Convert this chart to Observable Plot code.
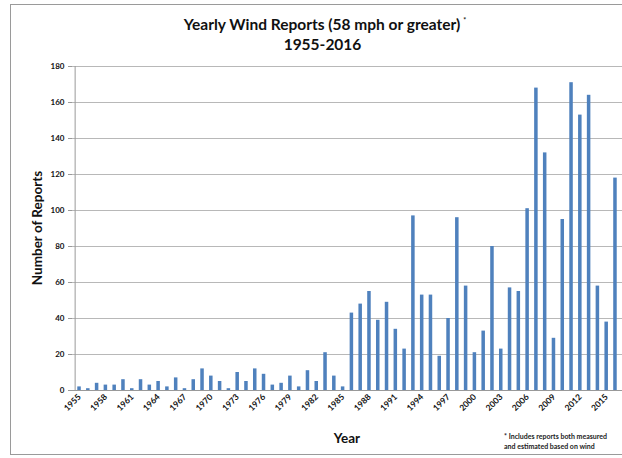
<!DOCTYPE html>
<html>
<head>
<meta charset="utf-8">
<script src="https://cdn.jsdelivr.net/npm/d3@7"></script>
<script src="https://cdn.jsdelivr.net/npm/@observablehq/plot@0.6"></script>
<style>
  html, body { margin: 0; padding: 0; background: #fff; }
  #wrap { position: relative; width: 622px; height: 458px; overflow: hidden; font-family: Lato, "Open Sans", sans-serif; color: #111; }
  #frame { position: absolute; left: 10px; top: 4px; width: 640px; height: 451px; border: 1px solid #9a9a9a; box-sizing: border-box; }
  .t { position: absolute; font-weight: bold; white-space: nowrap; }
  #chart { position: absolute; left: 0; top: 0; }
</style>
</head>
<body>
<div id="wrap">
  <div id="frame"></div>
  <div id="chart"></div>
  <div class="t" style="left:0;width:650px;top:15px;text-align:center;font-size:15.5px;">Yearly Wind Reports (58 mph or greater)<sup style="font-size:7px;vertical-align:7px;margin-left:3px;">*</sup></div>
  <div class="t" style="left:0;width:645px;top:35px;text-align:center;font-size:15.5px;">1955-2016</div>
  <div class="t" style="left:37px;top:228px;font-size:13.5px;transform:translate(-50%,-50%) rotate(-90deg);">Number of Reports</div>
  <div class="t" style="left:347px;top:438px;font-size:13.5px;transform:translate(-50%,-50%);">Year</div>
  <div class="t" style="left:504px;top:432px;font-size:7px;line-height:9.5px;color:#222;">* Includes reports both measured<br>and estimated based on wind</div>
</div>
<script>
const years = d3.range(1955, 2017);
const reports = [
  2, 1, 4, 3, 3, 6, 1, 6, 3, 5,
  2, 7, 1, 6, 12, 8, 5, 1, 10, 5,
  12, 9, 3, 4, 8, 2, 11, 5, 21, 8,
  2, 43, 48, 55, 39, 49, 34, 23, 97, 53,
  53, 19, 40, 96, 58, 21, 33, 80, 23, 57,
  55, 101, 168, 132, 29, 95, 171, 153, 164, 58,
  38, 118
];
const yTicks = d3.range(0, 181, 20);
const xTickYears = years.filter((d, i) => i % 3 === 0);

const data = years.map((y, i) => ({year: y, value: reports[i]}));

const chart = Plot.plot({
  width: 622,
  height: 458,
  marginLeft: 72,
  marginRight: 0,
  marginTop: 66,
  marginBottom: 68,
  style: {fontFamily: "Lato, 'Open Sans', sans-serif", background: "transparent"},
  x: {type: "band", domain: years, padding: 0.6, label: null},
  y: {domain: [0, 180], label: null},
  marks: [
    Plot.gridY(yTicks, {stroke: "#b8b8b8", strokeOpacity: 1, strokeWidth: 1}),
    Plot.ruleX([0], {x: () => years[0], dx: -4.4, y1: 0, y2: 180, stroke: "#999"}),
    Plot.axisY(yTicks, {anchor: "left", tickSize: 4, tickPadding: 4, fontSize: 8, fontWeight: "bold", stroke: "#999", label: null, tickFormat: d => d}),
    Plot.barY(data, {x: "year", y: "value", fill: "#4f81bd"}),
    Plot.ruleY([0], {stroke: "#999"}),
    Plot.axisX(xTickYears, {anchor: "bottom", tickRotate: -45, tickSize: 0, tickPadding: 5, fontSize: 8.5, fontWeight: "bold", label: null, tickFormat: d => String(d)})
  ]
});
document.getElementById("chart").appendChild(chart);
</script>
</body>
</html>
